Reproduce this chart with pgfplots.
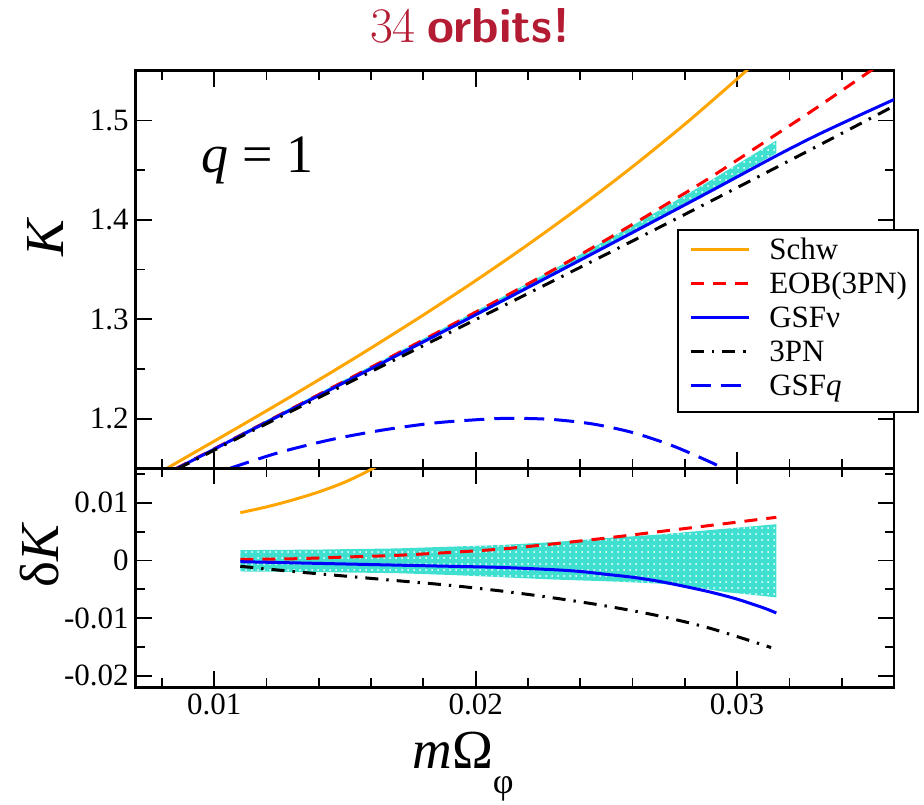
\documentclass[border=0pt]{standalone}
\usepackage{fontspec}
\setmainfont{Liberation Serif}
\usepackage{pgfplots}
\pgfplotsset{compat=1.18}
\usetikzlibrary{patterns}
\definecolor{crim}{RGB}{180,28,52}
\definecolor{turq}{RGB}{64,224,208}
\definecolor{orng}{RGB}{255,165,0}
\newcommand\tickfont{\fontsize{15.5}{18}\selectfont}
\newcommand\legfont{\fontsize{15.5}{17}\selectfont}
\newcommand\labfont{\fontsize{27.5}{30}\selectfont}
\pgfplotsset{
 common/.style={
  scale only axis, width=379.15pt,
  xmin=0.007, xmax=0.036,
  xtick={0.01,0.02,0.03},
  minor xtick={0.008,0.012,0.014,0.016,0.018,0.022,0.024,0.026,0.028,0.032,0.034},
  axis line style={line width=1.3pt},
  every tick/.style={black, line width=0.9pt},
  major tick length=8pt, minor tick length=4.5pt,
  tick label style={font=\tickfont},
  /pgf/number format/assume math mode=true,
  /pgf/number format/fixed,
  /pgf/number format/precision=3,
  scaled ticks=false,
  tick align=inside,
 },
 ln/.style={line width=1.5pt},
}
\begin{document}
\begin{tikzpicture}
\useasboundingbox (-67.85pt,-167.85pt) rectangle (394.15pt,234.15pt);
\begin{axis}[common,
  name=top, at={(0pt,0pt)}, anchor=south west, height=198.8pt,
  ymin=1.15, ymax=1.55, ytick={1.2,1.3,1.4,1.5}, minor ytick={1.25,1.35,1.45},
  xticklabels={},
  ylabel={\labfont\itshape K},
  ylabel style={at={(axis description cs:-0.1183,0.579)}, anchor=center},
  title={\color{crim}$34$ \textsf{\bfseries orbits!}},
  title style={at={(axis description cs:0.4409,1)}, anchor=base, yshift=8.35pt, font=\fontsize{24.5}{27}\selectfont},
  legend cell align=left,
  legend image code/.code={\draw[#1] (0pt,2pt) -- (29pt,2pt);},
  legend style={at={(axis description cs:0.7142,0.601)}, anchor=north west,
    draw=black, line width=1pt, fill=white, inner xsep=5.5pt, inner ysep=3pt,
    font=\legfont, row sep=0pt,
    nodes={inner sep=0pt, text height=11.5pt, text depth=5.5pt},
    /tikz/every odd column/.append style={column sep=9.5pt}},
]
\addplot[draw=none, fill=turq, postaction={pattern=dots, pattern color=white}, forget plot] coordinates {
(0.011,1.1848) (0.014,1.2257) (0.017,1.2666) (0.019,1.2942) (0.021,1.3221) (0.023,1.3505) (0.025,1.3796) (0.027,1.4092) (0.029,1.4398) (0.0315,1.4798)
(0.0315,1.4671) (0.029,1.4295) (0.027,1.4009) (0.025,1.3720) (0.023,1.3440) (0.021,1.3165) (0.019,1.2893) (0.017,1.2623) (0.014,1.2218) (0.011,1.1811)} -- cycle;
\addplot[ln, orng, smooth] coordinates {
(0.0082,1.15007) (0.009,1.16218) (0.010,1.17729) (0.011,1.19248) (0.012,1.20779) (0.013,1.22327) (0.014,1.23894) (0.015,1.25485) (0.016,1.27100) (0.018,1.30421) (0.020,1.33881) (0.022,1.37502) (0.024,1.41313) (0.026,1.45340) (0.028,1.49616) (0.030,1.54173) (0.031,1.56578)};
\addlegendentry{Schw}
\addplot[ln, red, smooth, dash pattern=on 6.5pt off 4.5pt] coordinates {
(0.0085,1.1492) (0.011,1.1832) (0.013,1.2105) (0.015,1.2379) (0.017,1.2654) (0.019,1.2931) (0.021,1.3212) (0.023,1.3500) (0.025,1.3800) (0.027,1.4110) (0.029,1.4430) (0.0315,1.4860) (0.033,1.5120) (0.035,1.5480) (0.036,1.566)};
\addlegendentry{EOB(3PN)}
\addplot[ln, blue, smooth] coordinates {
(0.0085,1.1488) (0.011,1.1828) (0.013,1.2098) (0.015,1.2367) (0.017,1.2637) (0.019,1.2908) (0.021,1.3182) (0.023,1.3457) (0.025,1.3733) (0.027,1.4011) (0.029,1.4290) (0.0315,1.4644) (0.033,1.4845) (0.0345,1.5030) (0.036,1.5210)};
\addlegendentry{GSFν}
\addplot[ln, black, smooth, dash pattern=on 6.5pt off 4pt on 1.2pt off 4pt] coordinates {
(0.0086,1.14943) (0.011,1.18159) (0.013,1.20801) (0.015,1.23423) (0.017,1.26037) (0.019,1.28650) (0.021,1.31271) (0.023,1.33901) (0.025,1.36543) (0.027,1.39204) (0.029,1.41885) (0.031,1.44592) (0.033,1.47316) (0.035,1.50068) (0.036,1.51453)};
\addlegendentry{3PN}
\addplot[ln, blue, smooth, dash pattern=on 10pt off 5pt] coordinates {
(0.0106,1.1500) (0.0125,1.1660) (0.0145,1.1790) (0.0165,1.1887) (0.0185,1.1958) (0.0205,1.1996) (0.0216,1.2003) (0.0230,1.1990) (0.0245,1.1945) (0.0260,1.1860) (0.0275,1.1730) (0.0290,1.1560) (0.0296,1.1480)};
\addlegendentry{GSF\textit{q}}
\node[anchor=base west, font=\fontsize{27}{29}\selectfont] at (axis description cs:0.078,0.745) {\textit{q} = 1};
\end{axis}
\begin{axis}[common,
  at={(0pt,0pt)}, anchor=north west, height=109.5pt,
  ymin=-0.022, ymax=0.016, ytick={-0.02,-0.01,0,0.01}, minor ytick={-0.015,-0.005,0.005,0.015},
  ylabel={\labfont δ\textit{K}},
  ylabel style={at={(axis description cs:-0.1262,0.604)}, anchor=center},
  xlabel={\labfont\textit{m}Ω\raisebox{-12.5pt}{\fontsize{18}{18}\selectfont φ}},
  xlabel style={at={(axis description cs:0.4316,0)}, anchor=base, yshift=-40.35pt},
]
\addplot[draw=none, fill=turq, postaction={pattern=dots, pattern color=white}] coordinates {
(0.011,0.0018) (0.014,0.0019) (0.017,0.0021) (0.019,0.0024) (0.021,0.0027) (0.023,0.0032) (0.025,0.0039) (0.027,0.0045) (0.029,0.0053) (0.0315,0.0063)
(0.0315,-0.0064) (0.0296,-0.0055) (0.0282,-0.0045) (0.027,-0.0040) (0.025,-0.0036) (0.023,-0.0033) (0.021,-0.0029) (0.019,-0.0025) (0.017,-0.0022) (0.014,-0.0020) (0.011,-0.0019)} -- cycle;
\addplot[ln, orng, smooth] coordinates {
(0.011,0.0083) (0.012,0.0093) (0.013,0.0105) (0.014,0.0119) (0.015,0.0136) (0.016,0.0158) (0.017,0.0184)};
\addplot[ln, red, smooth, dash pattern=on 6.5pt off 4.5pt] coordinates {
(0.011,0.0002) (0.013,0.0003) (0.015,0.0006) (0.017,0.0009) (0.019,0.0014) (0.021,0.0020) (0.023,0.0029) (0.025,0.0039) (0.027,0.0050) (0.029,0.0061) (0.0315,0.0075)};
\addplot[ln, blue, smooth] coordinates {
(0.011,-0.0002) (0.013,-0.0004) (0.015,-0.0006) (0.017,-0.0008) (0.019,-0.0010) (0.021,-0.0012) (0.023,-0.0016) (0.024,-0.0019) (0.025,-0.0024) (0.026,-0.0029) (0.027,-0.0036) (0.028,-0.0045) (0.029,-0.0055) (0.030,-0.0067) (0.031,-0.0082) (0.0315,-0.0091)};
\addplot[ln, black, smooth, dash pattern=on 6.5pt off 4pt on 1.2pt off 4pt] coordinates {
(0.011,-0.0010) (0.013,-0.0019) (0.015,-0.0027) (0.017,-0.0035) (0.019,-0.0043) (0.021,-0.0053) (0.023,-0.0065) (0.025,-0.0079) (0.027,-0.0096) (0.029,-0.0118) (0.0313,-0.0151)};
\end{axis}
\end{tikzpicture}
\end{document}
